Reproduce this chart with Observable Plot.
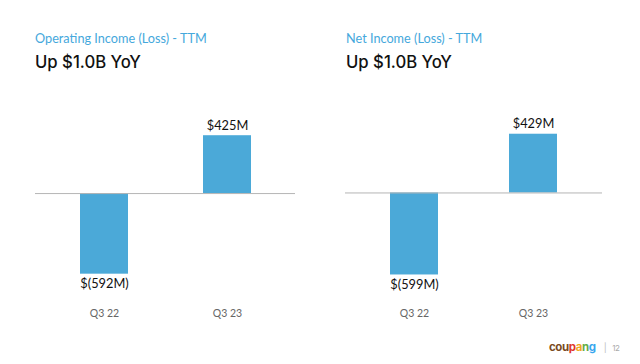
<!DOCTYPE html>
<html>
<head>
<meta charset="utf-8">
<script src="https://cdn.jsdelivr.net/npm/d3@7"></script>
<script src="https://cdn.jsdelivr.net/npm/@observablehq/plot@0.6"></script>
<style>
  html, body { margin: 0; padding: 0; background: #fff; }
  body { width: 640px; height: 364px; position: relative; overflow: hidden; font-family: Lato, "Noto Sans", sans-serif; }
  .panel { position: absolute; top: 0; width: 320px; height: 364px; }
  .kicker { position: absolute; top: 30px; font-size: 12.7px; color: #45a8dc; white-space: nowrap; }
  .head { position: absolute; top: 52px; font-size: 16.7px; font-weight: 500; color: #111; white-space: nowrap; font-family: Inter, sans-serif; }
  .plot { position: absolute; top: 90px; left: 0; }
  .footer { position: absolute; top: 340px; left: 549px; font-size: 11.5px; font-weight: 700; white-space: nowrap; font-family: Inter, sans-serif; letter-spacing: -0.4px; }
  .footer .sep { color: #bbb; font-weight: 400; font-size: 9px; margin-left: 8px; }
  .footer .pg { color: #aaa; font-weight: 400; font-size: 8px; margin-left: 6px; }
</style>
</head>
<body>
<div class="panel" id="left" style="left:0">
  <div class="kicker" style="left:35px">Operating Income (Loss) - TTM</div>
  <div class="head" style="left:35px">Up $1.0B YoY</div>
  <div class="plot" id="plotL"></div>
</div>
<div class="panel" id="right" style="left:320px">
  <div class="kicker" style="left:26px">Net Income (Loss) - TTM</div>
  <div class="head" style="left:26px">Up $1.0B YoY</div>
  <div class="plot" id="plotR"></div>
</div>
<div class="footer"><span style="color:#7a4a22">cou</span><span style="color:#e0392e">p</span><span style="color:#f2a71e">a</span><span style="color:#66ad46">n</span><span style="color:#3aa6ee">g</span><span class="sep">|</span><span class="pg">12</span></div>
<script>
const quarters = ["Q3 22", "Q3 23"];
const operatingIncome = [-592, 425];
const netIncome = [-599, 429];
const operatingLabels = ["$(592M)", "$425M"];
const netLabels = ["$(599M)", "$429M"];

function chart(values, labels, opts) {
  const data = quarters.map((q, i) => ({q, v: values[i], label: labels[i]}));
  return Plot.plot({
    width: 320,
    height: 240,
    marginTop: opts.marginTop,
    marginBottom: 28,
    marginLeft: opts.marginLeft,
    marginRight: opts.marginRight,
    style: {fontFamily: 'Lato, "Noto Sans", sans-serif', background: "transparent"},
    x: {domain: quarters, paddingInner: opts.pi, paddingOuter: opts.po, label: null},
    y: {domain: [-800, 500], axis: null},
    marks: [
      Plot.barY(data, {x: "q", y: "v", fill: "#4ba9d8"}),
      Plot.ruleY([0], {stroke: "#b5b5b5", strokeWidth: 1}),
      Plot.text(data.filter(d => d.v >= 0), {x: "q", y: "v", text: "label", lineAnchor: "bottom", dy: -6, fontSize: 12.8, fill: "#111"}),
      Plot.text(data.filter(d => d.v < 0), {x: "q", y: "v", text: "label", lineAnchor: "top", dy: 5, fontSize: 12.8, fill: "#111"}),
      Plot.axisX({tickSize: 0, tickPadding: 7, fontSize: 10.5, color: "#666", label: null})
    ]
  });
}

document.getElementById("plotL").append(chart(operatingIncome, operatingLabels, {marginTop: 35, marginLeft: 35, marginRight: 25, pi: 0.611, po: 0.358}));
document.getElementById("plotR").append(chart(netIncome, netLabels, {marginTop: 34, marginLeft: 25, marginRight: 38, pi: 0.6, po: 0.371}));
</script>
</body>
</html>
